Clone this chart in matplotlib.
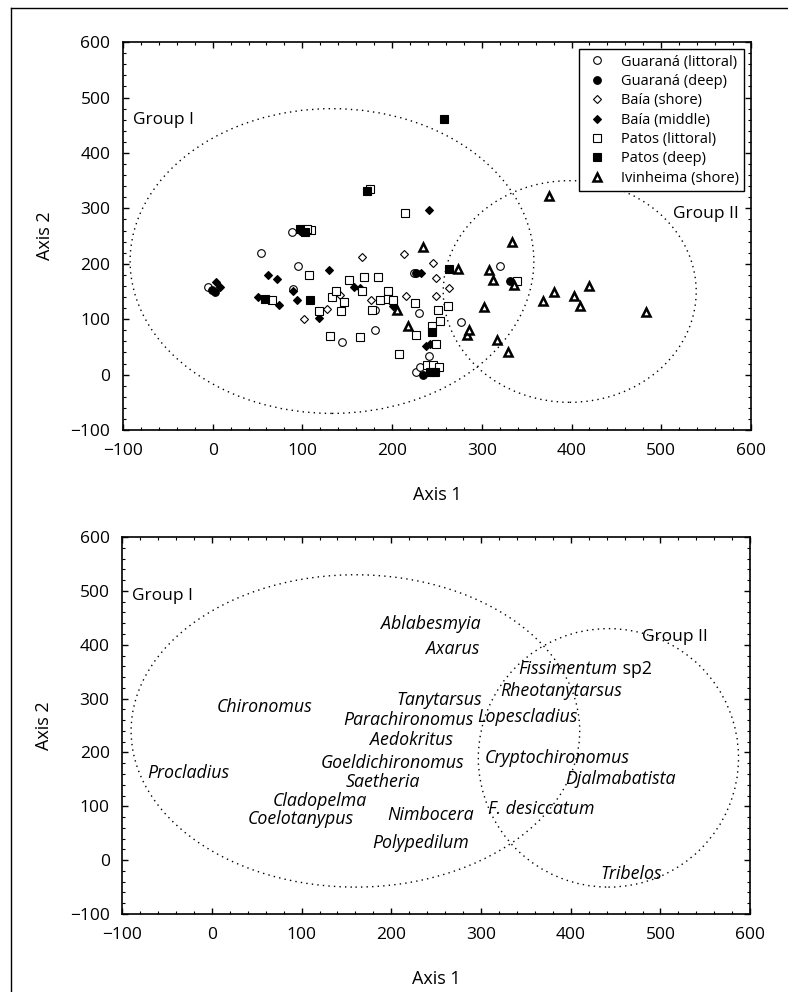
import numpy as np
import matplotlib.pyplot as plt
from matplotlib.patches import Ellipse
from matplotlib.lines import Line2D

plt.rcParams['font.family'] = ['Open Sans', 'DejaVu Sans']

# top panel: sample scores (Axis 1, Axis 2)
guarana_lit = [(-5, 159), (54, 220), (88, 257), (95, 196), (90, 155), (181, 116), (181, 81),
               (144, 58), (224, 183), (230, 112), (241, 34), (227, 5), (231, 14), (277, 95), (320, 196)]
guarana_deep = [(-1, 152), (3, 149), (227, 183), (235, -1), (331, 169)]
baia_shore = [(102, 101), (127, 118), (142, 143), (167, 212), (177, 134), (213, 217), (215, 142),
              (246, 201), (249, 175), (263, 157), (249, 142)]
baia_middle = [(4, 167), (8, 159), (51, 140), (62, 179), (72, 172), (74, 125), (94, 135), (90, 151),
               (97, 260), (118, 102), (130, 188), (157, 159), (164, 157), (201, 123), (232, 183),
               (241, 297), (238, 52), (242, 55)]
patos_lit = [(66, 135), (107, 179), (110, 261), (105, 263), (118, 115), (131, 69), (133, 140),
             (137, 151), (143, 115), (146, 131), (152, 170), (164, 67), (167, 151), (169, 176),
             (178, 116), (184, 176), (187, 134), (195, 151), (195, 137), (201, 134), (208, 37),
             (214, 292), (226, 130), (227, 72), (244, 87), (249, 55), (251, 117), (253, 97),
             (262, 123), (239, 17), (246, 17), (252, 14), (339, 169), (175, 335)]
patos_deep = [(58, 137), (109, 135), (97, 262), (103, 258), (172, 332), (258, 462), (244, 77),
              (263, 190), (242, 5), (248, 5)]
ivinheima = [(206, 116), (218, 87), (234, 230), (273, 191), (283, 72), (286, 81), (302, 122),
             (308, 188), (312, 170), (336, 162), (334, 239), (368, 132), (375, 322), (381, 150),
             (403, 142), (409, 123), (419, 160), (483, 113), (317, 62), (329, 41)]

series = [
    ("Guaraná (littoral)", guarana_lit, 'o', 'white'),
    ("Guaraná (deep)", guarana_deep, 'o', 'black'),
    ("Baía (shore)", baia_shore, 'D', 'white'),
    ("Baía (middle)", baia_middle, 'D', 'black'),
    ("Patos (littoral)", patos_lit, 's', 'white'),
    ("Patos (deep)", patos_deep, 's', 'black'),
    ("Ivinheima (shore)", ivinheima, '^', 'white'),
]

# bottom panel: taxa scores
taxa = ["Ablabesmyia", "Axarus", "Fissimentum", "Rheotanytarsus", "Chironomus",
        "Tanytarsus", "Parachironomus", "Lopescladius", "Aedokritus", "Goeldichironomus",
        "Cryptochironomus", "Procladius", "Saetheria", "Djalmabatista", "Cladopelma",
        "Nimbocera", "F. desiccatum", "Coelotanypus", "Polypedilum", "Tribelos"]
taxa_x = [188, 239, 342, 321, 5, 206, 146, 296, 176, 121, 304, -72, 149, 394, 68, 195, 308, 40, 179, 433]
taxa_y = [439, 392, 355, 315, 285, 298, 261, 265, 224, 181, 190, 161, 146, 150, 110, 84, 95, 76, 32, -25]

fig = plt.figure(figsize=(7.88, 9.92), dpi=100)
ax1 = fig.add_axes([0.156, 0.5665, 0.797, 0.391])
ax2 = fig.add_axes([0.155, 0.0786, 0.797, 0.380])

for name, pts, m, fc in series:
    pts = np.array(pts)
    ms = {'o': 5.5, 's': 5.8, 'D': 4.2, '^': 5.5}[m]
    lw = 1.8 if m == '^' else 0.8
    ax1.plot(pts[:, 0], pts[:, 1], ls='none', marker=m, mfc=fc, mec='black', ms=ms, mew=lw, label=name)

dots = (0, (1, 3))
ax1.add_patch(Ellipse((133, 205), 450, 550, fill=False, ls=dots, lw=1, ec='black'))
ax1.add_patch(Ellipse((398, 150), 282, 400, fill=False, ls=dots, lw=1, ec='black'))
ax1.text(-89, 460, "Group I", fontsize=12.5, va='center')
ax1.text(513, 290, "Group II", fontsize=12.5, va='center')
leg = ax1.legend(loc='upper right', fontsize=10.5, frameon=True, fancybox=False, edgecolor='black',
                 handletextpad=0.7, borderaxespad=0.5, borderpad=0.35, labelspacing=0.3,
                 handlelength=1.8, framealpha=1)
leg.get_frame().set_linewidth(1.0)
leg.set_zorder(5)

ax2.add_patch(Ellipse((160, 240), 500, 580, fill=False, ls=dots, lw=1, ec='black'))
ax2.add_patch(Ellipse((442, 190), 290, 480, fill=False, ls=dots, lw=1, ec='black'))
ax2.text(-89, 490, "Group I", fontsize=12.5, va='center')
ax2.text(479, 415, "Group II", fontsize=12.5, va='center')
for t, x, y in zip(taxa, taxa_x, taxa_y):
    txt = ax2.text(x, y, t, fontsize=12.8, va='center', style='italic')
    if t == "Fissimentum":
        ax2.annotate(" sp2", xy=(1, 0.5), xycoords=txt, fontsize=12.8, va='center', ha='left')

for ax in (ax1, ax2):
    ax.set_xlim(-100, 600)
    ax.set_ylim(-100, 600)
    ax.set_xticks(np.arange(-100, 601, 100))
    ax.set_yticks(np.arange(-100, 601, 100))
    ax.set_xticks(np.arange(-100, 601, 20), minor=True)
    ax.set_yticks(np.arange(-100, 601, 20), minor=True)
    ax.set_xticklabels(['\u2212100'] + [str(v) for v in range(0, 601, 100)])
    ax.set_yticklabels(['\u2212100'] + [str(v) for v in range(0, 601, 100)])
    ax.tick_params(which='both', direction='in', top=True, right=True, labelsize=12.5)
    ax.tick_params(which='major', length=4, width=1, pad=9)
    ax.tick_params(which='minor', length=2.5, width=0.8)
    for s in ax.spines.values():
        s.set_linewidth(1.2)
    ax.set_xlabel("Axis 1", fontsize=13, labelpad=20)
    ax.set_ylabel("Axis 2", fontsize=13, labelpad=12)

# outer frame
fig.add_artist(Line2D([11 / 788, 11 / 788], [0, 1 - 8 / 992], color='black', lw=1))
fig.add_artist(Line2D([11 / 788, 1], [1 - 8 / 992, 1 - 8 / 992], color='black', lw=1))

fig.savefig("out.png", dpi=100)
